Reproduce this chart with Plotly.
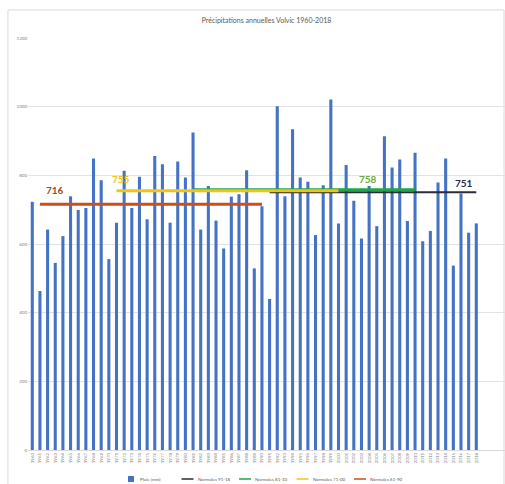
import plotly.graph_objects as go

# Annual rainfall at Volvic, 1960-2018 (mm)
years = list(range(1960, 2019))
rain_mm = [
    723, 463, 642, 545, 623, 739, 699, 705, 849, 786,
    556, 662, 813, 705, 796, 672, 856, 832, 662, 840,
    794, 925, 642, 769, 668, 587, 738, 745, 815, 529,
    710, 440, 1001, 739, 934, 794, 781, 626, 771, 1021,
    660, 830, 726, 616, 769, 652, 914, 823, 846, 667,
    866, 608, 638, 779, 849, 537, 747, 633, 660,
]
bar_name = "Pluie (mm)"
bar_color = "#4472C4"

# Climate normals: name, first year, last year, value, colour, label colour, width
normal_names = ["Normales 91-18", "Normales 81-10", "Normales 71-00", "Normales 61-90"]
normal_start = [1991, 1981, 1971, 1961]
normal_end = [2018, 2010, 2000, 1990]
normal_value = [751, 758, 755, 716]
normal_color = ["#2B2B3A", "#1FA64A", "#F2C316", "#C9501C"]
label_color = ["#2A2A48", "#6FA83C", "#F2C316", "#A34A1E"]
line_width = [2, 3, 3, 3]
label_x = [2016.4, 2003.8, 1971.6, 1963.0]
label_shift = [9, 11, 12, 14]

y_ticks = [0, 200, 400, 600, 800, 1000, 1200]

# plot area geometry (pixels) used to place the hand-built legend
PL, PW, PB, PH = 28, 477, 450, 412


def px_x(x):
    return (x - PL) / PW


def px_y(y):
    return (PB - y) / PH


fig = go.Figure()

fig.add_trace(go.Bar(
    x=years, y=rain_mm, width=0.4, name=bar_name, showlegend=False,
    marker=dict(color=bar_color, line=dict(width=0)),
))

for name, x0, x1, v, c, w in zip(normal_names, normal_start, normal_end,
                                 normal_value, normal_color, line_width):
    fig.add_trace(go.Scatter(
        x=[x0, x1], y=[v, v], mode="lines", name=name, showlegend=False,
        line=dict(color=c, width=w),
    ))

for v, lx, lc, sh in zip(normal_value, label_x, label_color, label_shift):
    fig.add_annotation(
        x=lx, y=v, text=f"<b>{v}</b>", showarrow=False, yshift=sh,
        font=dict(family="Lato, sans-serif", size=10, color=lc),
    )

# compact legend row under the axis
legend_font = dict(family="Lato, sans-serif", size=4.5, color="#595959")
ly = px_y(479)
entries = [(bar_name, bar_color, "box")] + [
    (n, c, "line") for n, c in zip(normal_names, normal_color)]
x_start = 128
step = 57.5
for i, (name, color, kind) in enumerate(entries):
    sx = x_start + i * step
    if kind == "box":
        fig.add_shape(type="rect", xref="paper", yref="paper",
                      x0=px_x(sx), x1=px_x(sx + 6), y0=px_y(482), y1=px_y(476),
                      fillcolor=color, line=dict(width=0))
    else:
        fig.add_shape(type="line", xref="paper", yref="paper",
                      x0=px_x(sx - 4), x1=px_x(sx + 8), y0=ly, y1=ly,
                      line=dict(color=color, width=1.5))
    fig.add_annotation(xref="paper", yref="paper", x=px_x(sx + 10), y=ly,
                       xanchor="left", yanchor="middle", text=name,
                       showarrow=False, font=legend_font)

# light frame around the whole chart
fig.add_shape(type="rect", xref="paper", yref="paper",
              x0=-0.042, x1=0.998, y0=-0.11, y1=1.068,
              line=dict(color="#D9D9D9", width=1), layer="below")

fig.update_layout(
    width=505, height=484,
    margin=dict(l=PL, r=0, t=38, b=34),
    paper_bgcolor="white", plot_bgcolor="white",
    title=dict(text="Précipitations annuelles Volvic 1960-2018",
               x=0.5, xanchor="center", xref="paper", y=0.958, yanchor="middle",
               font=dict(family="Lato, sans-serif", size=7, color="#595959")),
    showlegend=False,
    bargap=0.6,
)

fig.update_xaxes(
    range=[1959.44, 2021.75], tickvals=years, ticktext=[str(y) for y in years],
    tickangle=-90, tickfont=dict(family="Lato, sans-serif", size=4.5, color="#7F7F7F"),
    showgrid=False, showline=True, linecolor="#D9D9D9", ticks="", zeroline=False,
)
fig.update_yaxes(
    range=[0, 1200], tickvals=y_ticks, ticktext=[str(t) for t in y_ticks],
    tickfont=dict(family="Lato, sans-serif", size=4.5, color="#7F7F7F"),
    showgrid=True, gridcolor="#E3E3E3", gridwidth=1, zeroline=False,
    showline=False, ticks="",
)

fig.write_html("out.html")
